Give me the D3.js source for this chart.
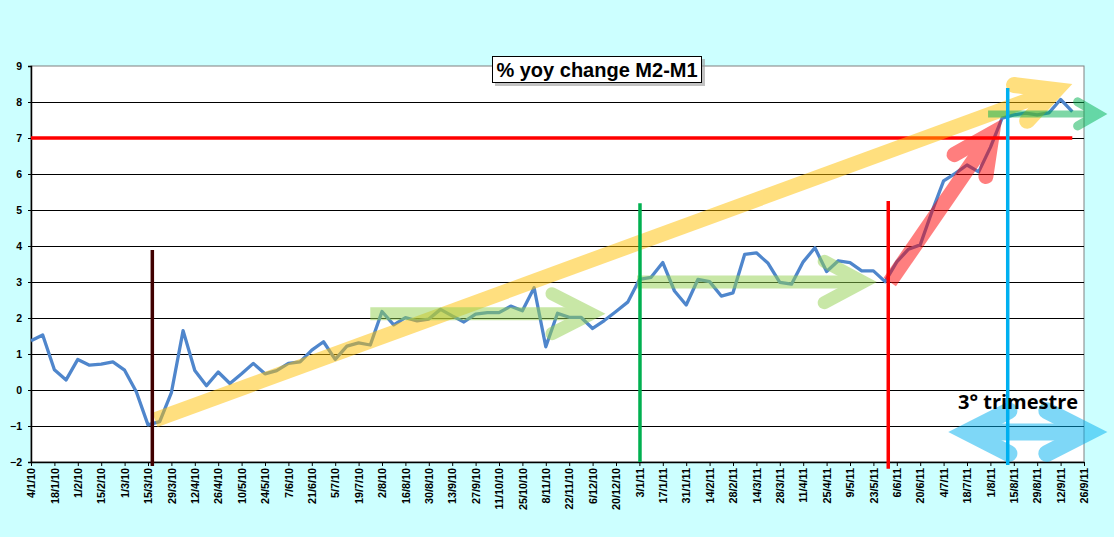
<!DOCTYPE html>
<html>
<head>
<meta charset="utf-8">
<script src="https://cdn.jsdelivr.net/npm/d3@7"></script>
<style>
body { margin:0; background:#ccffff; }
svg { display:block; }
</style>
</head>
<body>
<script>
// weekly % yoy change M2-M1, from 4/1/10 to 26/9/11 (last week empty)
var values = [1.37,1.53,0.56,0.28,0.85,0.69,0.72,0.78,0.55,-0.05,
  -0.97,-0.88,-0.07,1.65,0.54,0.12,0.50,0.18,0.45,0.74,
  0.45,0.54,0.74,0.78,1.11,1.34,0.85,1.22,1.31,1.25,
  2.18,1.81,2.01,1.92,1.97,2.24,2.06,1.89,2.11,2.15,
  2.15,2.33,2.20,2.84,1.20,2.13,2.02,2.02,1.71,1.93,
  2.18,2.44,3.07,3.13,3.54,2.75,2.36,3.07,3.01,2.61,
  2.70,3.77,3.81,3.52,2.99,2.94,3.56,3.95,3.29,3.59,
  3.54,3.31,3.31,3.01,3.56,3.91,4.03,4.95,5.81,6.02,
  6.25,6.06,6.74,7.55,7.64,7.69,7.64,7.70,8.07,7.73,null];

// one label every two weeks
var tickLabels = ["4/1/10","18/1/10","1/2/10","15/2/10","1/3/10","15/3/10","29/3/10",
  "12/4/10","26/4/10","10/5/10","24/5/10","7/6/10","21/6/10","5/7/10","19/7/10",
  "2/8/10","16/8/10","30/8/10","13/9/10","27/9/10","11/10/10","25/10/10","8/11/10",
  "22/11/10","6/12/10","20/12/10","3/1/11","17/1/11","31/1/11","14/2/11","28/2/11",
  "14/3/11","28/3/11","11/4/11","25/4/11","9/5/11","23/5/11","6/6/11","20/6/11",
  "4/7/11","18/7/11","1/8/11","15/8/11","29/8/11","12/9/11","26/9/11"];

var yTicks = [-2,-1,0,1,2,3,4,5,6,7,8,9];

var title = "% yoy change M2-M1";
var noteText = "3° trimestre";

// vertical markers: week index, bottom value, top value, colour
var markWeek  = [10.37, 52.05, 73.27, 83.48];
var markLow   = [-2.11, -2.0, -2.19, -2.08];
var markHigh  = [3.89, 5.19, 5.25, 8.39];
var markColor = ["#400000", "#00b050", "#ff0000", "#00b0f0"];

// horizontal threshold line
var levelValue = 7;
var levelFrom = 0, levelTo = 89;

// hand drawn arrows, in (week, value)
var arrowFrom  = [[10.6,-0.83],[29.0,2.12],[51.8,3.0],[73.4,3.0],[81.8,7.67],[78.4,-1.17]];
var arrowTo    = [[89.0,8.5],[49.1,2.12],[72.3,3.0],[83.0,7.53],[92.0,7.67],[92.0,-1.17]];
var arrowColor = ["#ffc000","#92d050","#92d050","#ff0000","#00b050","#00b0f0"];
var arrowBoth  = [false,false,false,false,false,true];

var W = 1114, H = 537;
var pLeft = 31, pRight = 1084, pTop = 66, pBottom = 462;

var svg = d3.select("body").append("svg").attr("width", W).attr("height", H);
svg.append("rect").attr("width", W).attr("height", H).attr("fill", "#ccffff");

var x = d3.scaleLinear().domain([0, 90]).range([pLeft, pRight]);
var y = d3.scaleLinear().domain([-2, 9]).range([pBottom, pTop]);

// plot area
svg.append("rect").attr("x", pLeft).attr("y", pTop)
  .attr("width", pRight - pLeft).attr("height", pBottom - pTop)
  .attr("fill", "#fff").attr("stroke", "#808080").attr("stroke-width", 1);

// gridlines
svg.append("g").selectAll("line")
  .data(yTicks.filter(function(d){ return d > -2 && d < 9; }))
  .enter().append("line")
  .attr("x1", pLeft).attr("x2", pRight)
  .attr("y1", function(d){ return Math.round(y(d)) + 0.5; })
  .attr("y2", function(d){ return Math.round(y(d)) + 0.5; })
  .attr("stroke", "#000").attr("stroke-width", 1);

// y axis
var yAxis = d3.axisLeft(y).tickValues(yTicks).tickSize(3).tickPadding(6);
var gy = svg.append("g").attr("transform", "translate(" + pLeft + ",0)").call(yAxis);
gy.select(".domain").attr("stroke", "#000").attr("stroke-width", 1.5);
gy.selectAll("text").attr("font-family", "Liberation Sans, Arial, sans-serif")
  .attr("font-weight", "bold").attr("font-size", 10.5).attr("fill", "#000");

// x axis
var xAxis = d3.axisBottom(x)
  .tickValues(d3.range(0, 91, 2))
  .tickFormat(function(d){ return tickLabels[d / 2]; })
  .tickSize(4).tickSizeOuter(0);
var gx = svg.append("g").attr("transform", "translate(0," + pBottom + ")").call(xAxis);
gx.select(".domain").attr("stroke", "#000").attr("stroke-width", 1.5);
gx.selectAll("text")
  .attr("font-family", "Liberation Sans, Arial, sans-serif")
  .attr("font-weight", "bold").attr("font-size", 10.8).attr("fill", "#000")
  .attr("text-anchor", "end")
  .attr("transform", "rotate(-90)")
  .attr("x", -6).attr("y", 0).attr("dy", "0.35em");

// main series
var line = d3.line()
  .defined(function(d){ return d != null; })
  .x(function(d, i){ return x(i); })
  .y(function(d){ return y(d); });
svg.append("path").datum(values)
  .attr("d", line)
  .attr("fill", "none").attr("stroke", "#4f86cc")
  .attr("stroke-width", 3.3).attr("stroke-linejoin", "round");

// red level line at 7
svg.append("line")
  .attr("x1", x(levelFrom)).attr("x2", x(levelTo))
  .attr("y1", y(levelValue)).attr("y2", y(levelValue))
  .attr("stroke", "#ff0000").attr("stroke-width", 3.5);

// arrows
var arrowWidth = [15, 13, 13, 15, 7, 17];
var headWidth  = [16, 13, 13, 15, 9, 17];
var headLen    = [42, 44, 44, 44, 24, 47];
var headAng    = [27, 27, 28, 26, 30, 27];

function drawArrow(i) {
  var g = svg.append("g").attr("opacity", 0.5);
  var x0 = x(arrowFrom[i][0]), y0 = y(arrowFrom[i][1]);
  var x1 = x(arrowTo[i][0]), y1 = y(arrowTo[i][1]);
  var th = Math.atan2(y1 - y0, x1 - x0);
  var ang = headAng[i] * Math.PI / 180;
  var hw = headWidth[i], L = headLen[i];

  function head(tx, ty, dir) {
    var off = (hw / 2) / Math.sin(ang);
    var cx = tx - off * Math.cos(dir), cy = ty - off * Math.sin(dir);
    var p1 = [cx - L * Math.cos(dir - ang), cy - L * Math.sin(dir - ang)];
    var p2 = [cx - L * Math.cos(dir + ang), cy - L * Math.sin(dir + ang)];
    g.append("path").attr("d", d3.line()([p1, [cx, cy], p2]))
      .attr("fill", "none").attr("stroke", arrowColor[i])
      .attr("stroke-width", hw).attr("stroke-linecap", "round")
      .attr("stroke-linejoin", "miter").attr("stroke-miterlimit", 10);
    return [cx, cy];
  }

  var end = head(x1, y1, th);
  var start = [x0, y0];
  if (arrowBoth[i]) start = head(x0, y0, th + Math.PI);
  g.append("path").attr("d", d3.line()([start, end]))
    .attr("fill", "none").attr("stroke", arrowColor[i])
    .attr("stroke-width", arrowWidth[i]).attr("stroke-linecap", "butt");
}
for (var k = 0; k < arrowFrom.length; k++) drawArrow(k);

// vertical markers
svg.append("g").selectAll("line")
  .data(markWeek).enter().append("line")
  .attr("x1", function(d){ return x(d); }).attr("x2", function(d){ return x(d); })
  .attr("y1", function(d, i){ return y(markHigh[i]); })
  .attr("y2", function(d, i){ return y(markLow[i]); })
  .attr("stroke", function(d, i){ return markColor[i]; })
  .attr("stroke-width", 3.5);

// note
svg.append("text")
  .attr("x", 958).attr("y", 409)
  .attr("font-family", "Open Sans, sans-serif")
  .attr("font-weight", "bold").attr("font-size", 20)
  .attr("fill", "#000").text(noteText);

// title box with shadow
var tb = svg.append("g");
tb.append("rect").attr("x", 495).attr("y", 59).attr("width", 210).attr("height", 27)
  .attr("fill", "#999").attr("opacity", 0.6);
tb.append("rect").attr("x", 492.5).attr("y", 56.5).attr("width", 209).attr("height", 26)
  .attr("fill", "#fff").attr("stroke", "#000").attr("stroke-width", 1);
tb.append("text").attr("x", 597).attr("y", 77)
  .attr("text-anchor", "middle")
  .attr("font-family", "Liberation Sans, Arial, sans-serif")
  .attr("font-weight", "bold").attr("font-size", 20)
  .attr("fill", "#000").text(title);
</script>
</body>
</html>
